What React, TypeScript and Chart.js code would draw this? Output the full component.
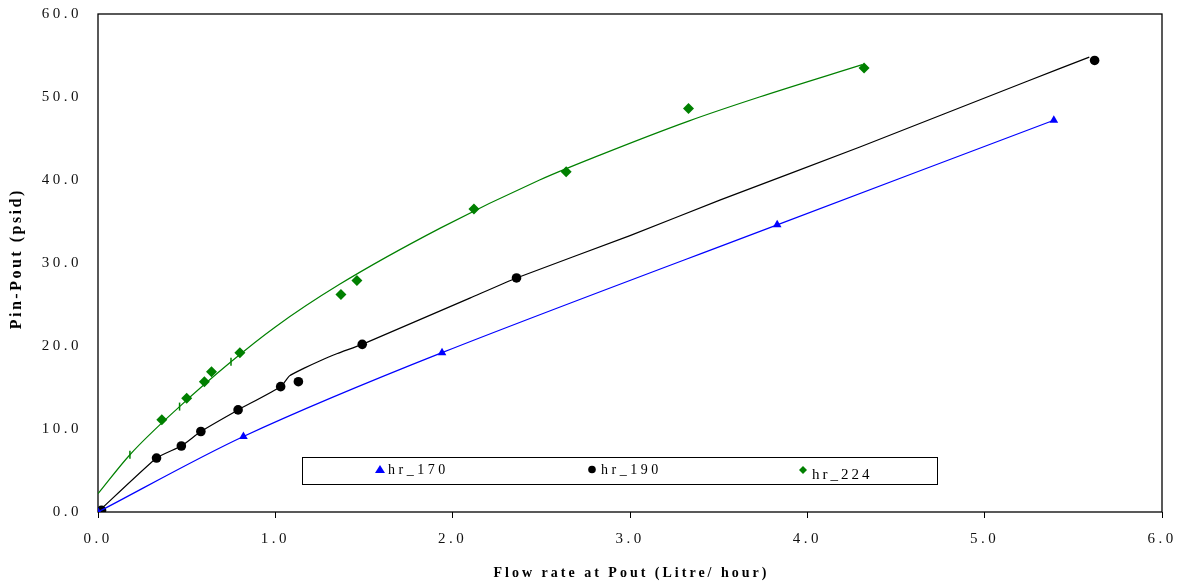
import React, { useEffect, useRef } from 'react';
import { Chart, registerables } from 'chart.js';

Chart.register(...registerables);

// ---- data ----
const xTickValues = [0, 1, 2, 3, 4, 5, 6];
const yTickValues = [0, 10, 20, 30, 40, 50, 60];

const hr170X = [0, 0.82, 1.94, 3.83, 5.39];
const hr170Y = [0, 9.1, 19.2, 34.6, 47.2];

const hr190X = [0.02, 0.33, 0.47, 0.58, 0.79, 1.03, 1.13, 1.49, 2.36, 5.62];
const hr190Y = [0.2, 6.5, 7.95, 9.7, 12.3, 15.1, 15.7, 20.2, 28.2, 54.4];

const hr190LineX = [0, 0.33, 0.47, 0.58, 0.79, 1.03, 1.08, 1.16, 1.25, 1.35, 1.49, 2.1, 2.36, 3.0, 3.51, 4.3, 5.24, 5.59];
const hr190LineY = [0, 6.5, 7.95, 9.7, 12.3, 15.1, 16.4, 17.3, 18.2, 19.1, 20.2, 25.8, 28.2, 33.3, 37.6, 44.0, 51.9, 54.8];

const hr224X = [0, 0.36, 0.5, 0.6, 0.64, 0.8, 1.37, 1.46, 2.12, 2.64, 3.33, 4.32];
const hr224Y = [0, 11.1, 13.7, 15.7, 16.9, 19.2, 26.2, 27.9, 36.5, 41.0, 48.6, 53.5];

const hr224FitX = [0, 0.18, 0.46, 0.75, 1.0, 1.36, 1.93, 2.49, 2.83, 3.33, 3.73, 4.31];
const hr224FitY = [2.2, 6.9, 12.7, 18.1, 22.3, 27.4, 34.2, 40.0, 43.0, 47.1, 50.0, 53.9];

const hr224MarkX = [0.18, 0.46, 0.75];
const hr224MarkY = [6.9, 12.7, 18.1];

const seriesNames = ['hr_170', 'hr_190', 'hr_224'];
const xTitle = 'Flow rate at Pout (Litre/ hour)';
const yTitle = 'Pin-Pout (psid)';

const BLUE = '#0000FF';
const BLACK = '#000000';
const GREEN = '#008000';
const FONT = '"Liberation Serif", "Times New Roman", serif';

const pts = (xs: number[], ys: number[]) => xs.map((x, i) => ({ x, y: ys[i] }));

const spacingPlugin = {
  id: 'spacing',
  beforeUpdate(chart: any) { chart.ctx.letterSpacing = '3.5px'; },
  beforeLayout(chart: any) { chart.ctx.letterSpacing = '3.5px'; },
  beforeDraw(chart: any) { chart.ctx.letterSpacing = '3.5px'; },
};

const framePlugin = {
  id: 'frame',
  beforeDatasetsDraw(chart: any) {
    const { ctx, chartArea: a } = chart;
    ctx.save();
    ctx.strokeStyle = '#000';
    ctx.lineWidth = 1.3;
    ctx.strokeRect(a.left, a.top, a.right - a.left, a.bottom - a.top);
    ctx.restore();
  },
  afterDraw(chart: any) {
    const { ctx, chartArea: a } = chart;
    ctx.save();
    // y title
    ctx.letterSpacing = '2.5px';
    ctx.fillStyle = '#000';
    ctx.font = `bold 16px ${FONT}`;
    ctx.textAlign = 'center';
    ctx.textBaseline = 'middle';
    ctx.translate(17, (a.top + a.bottom) / 2 - 3);
    ctx.rotate(-Math.PI / 2);
    ctx.fillText(yTitle, 1.25, 0);
    ctx.restore();

    // x title
    ctx.save();
    ctx.letterSpacing = '3px';
    ctx.fillStyle = '#000';
    ctx.font = `bold 14px ${FONT}`;
    ctx.textAlign = 'center';
    ctx.textBaseline = 'middle';
    ctx.fillText(xTitle, (a.left + a.right) / 2 + 1.5, 573);
    ctx.restore();

    // legend box
    ctx.save();
    const bx0 = 302, by0 = 457, bx1 = 937, by1 = 484;
    ctx.fillStyle = '#fff';
    ctx.fillRect(bx0, by0, bx1 - bx0, by1 - by0);
    ctx.strokeStyle = '#000';
    ctx.lineWidth = 1;
    ctx.strokeRect(bx0 + 0.5, by0 + 0.5, bx1 - bx0, by1 - by0);

    ctx.fillStyle = BLUE;
    ctx.beginPath();
    ctx.moveTo(380, 465);
    ctx.lineTo(385, 473);
    ctx.lineTo(375, 473);
    ctx.closePath();
    ctx.fill();

    ctx.fillStyle = BLACK;
    ctx.beginPath();
    ctx.arc(592, 469.5, 3.8, 0, Math.PI * 2);
    ctx.fill();

    ctx.fillStyle = GREEN;
    ctx.beginPath();
    ctx.moveTo(803, 466);
    ctx.lineTo(807, 470);
    ctx.lineTo(803, 474);
    ctx.lineTo(799, 470);
    ctx.closePath();
    ctx.fill();

    ctx.fillStyle = '#000';
    ctx.textAlign = 'left';
    ctx.textBaseline = 'alphabetic';
    ctx.letterSpacing = '3.5px';
    ctx.font = `14px ${FONT}`;
    ctx.fillText(seriesNames[0], 388, 474);
    ctx.fillText(seriesNames[1], 601, 474);
    ctx.font = `15px ${FONT}`;
    ctx.letterSpacing = '3px';
    ctx.fillText(seriesNames[2], 812, 479);
    ctx.restore();
  },
};

export default function App() {
  const ref = useRef<HTMLCanvasElement | null>(null);

  useEffect(() => {
    if (!ref.current) return;
    const chart = new Chart(ref.current, {
      type: 'scatter',
      data: {
        datasets: [
          {
            label: seriesNames[0],
            data: pts(hr170X, hr170Y),
            showLine: true,
            tension: 0.3,
            borderColor: BLUE,
            borderWidth: 1.2,
            backgroundColor: BLUE,
            pointStyle: 'triangle',
            pointRadius: 5,
            pointBorderWidth: 0,
            order: 1,
          },
          {
            label: seriesNames[1],
            data: pts(hr190X, hr190Y),
            showLine: false,
            borderColor: BLACK,
            backgroundColor: BLACK,
            pointStyle: 'circle',
            pointRadius: 4.8,
            pointBorderWidth: 0,
            order: 1,
          },
          {
            label: seriesNames[2],
            data: pts(hr224X, hr224Y),
            showLine: false,
            borderColor: GREEN,
            backgroundColor: GREEN,
            pointStyle: 'rectRot',
            pointRadius: 5.5,
            pointBorderWidth: 0,
            order: 1,
          },
          {
            label: 'hr_224 marks',
            data: pts(hr224MarkX, hr224MarkY),
            showLine: false,
            borderColor: GREEN,
            backgroundColor: GREEN,
            pointStyle: 'line',
            rotation: 90,
            pointRadius: 4,
            pointBorderWidth: 1.5,
            order: 2,
          },
          {
            label: 'hr_190 line',
            data: pts(hr190LineX, hr190LineY),
            showLine: true,
            tension: 0.15,
            borderColor: BLACK,
            borderWidth: 1.2,
            pointRadius: 0,
            order: 3,
          },
          {
            label: 'hr_224 fit',
            data: pts(hr224FitX, hr224FitY),
            showLine: true,
            cubicInterpolationMode: 'monotone',
            borderColor: GREEN,
            borderWidth: 1.2,
            pointRadius: 0,
            order: 3,
          },
        ],
      },
      options: {
        animation: false,
        responsive: true,
        maintainAspectRatio: false,
        layout: { padding: { top: 14, right: 25, left: 0, bottom: 0 } },
        plugins: {
          legend: { display: false },
          tooltip: { enabled: false },
        },
        scales: {
          x: {
            type: 'linear',
            min: 0,
            max: 6,
            afterBuildTicks: (s: any) => { s.ticks = xTickValues.map((v) => ({ value: v })); },
            afterFit: (s: any) => { s.height = 75; s.paddingLeft = 0; s.paddingRight = 0; },
            ticks: {
              font: { family: FONT, size: 15 },
              color: '#111',
              padding: 12,
              maxRotation: 0,
              autoSkip: false,
              callback: (v: any) => Number(v).toFixed(1),
            },
            grid: { drawOnChartArea: false, drawTicks: true, tickLength: 6, color: '#000' },
            border: { display: false },
          },
          y: {
            type: 'linear',
            min: 0,
            max: 60,
            afterBuildTicks: (s: any) => { s.ticks = yTickValues.map((v) => ({ value: v })); },
            afterFit: (s: any) => { s.width = 98; s.paddingTop = 0; s.paddingBottom = 0; },
            ticks: {
              font: { family: FONT, size: 15 },
              color: '#111',
              padding: 16,
              autoSkip: false,
              callback: (v: any) => Number(v).toFixed(1),
            },
            grid: { drawOnChartArea: false, drawTicks: false },
            border: { display: false },
          },
        },
      },
      plugins: [spacingPlugin, framePlugin],
    } as any);
    return () => chart.destroy();
  }, []);

  return (
    <div style={{ position: 'absolute', left: 0, top: 0, width: 1187, height: 587, background: '#fff' }}>
      <canvas ref={ref} />
    </div>
  );
}
